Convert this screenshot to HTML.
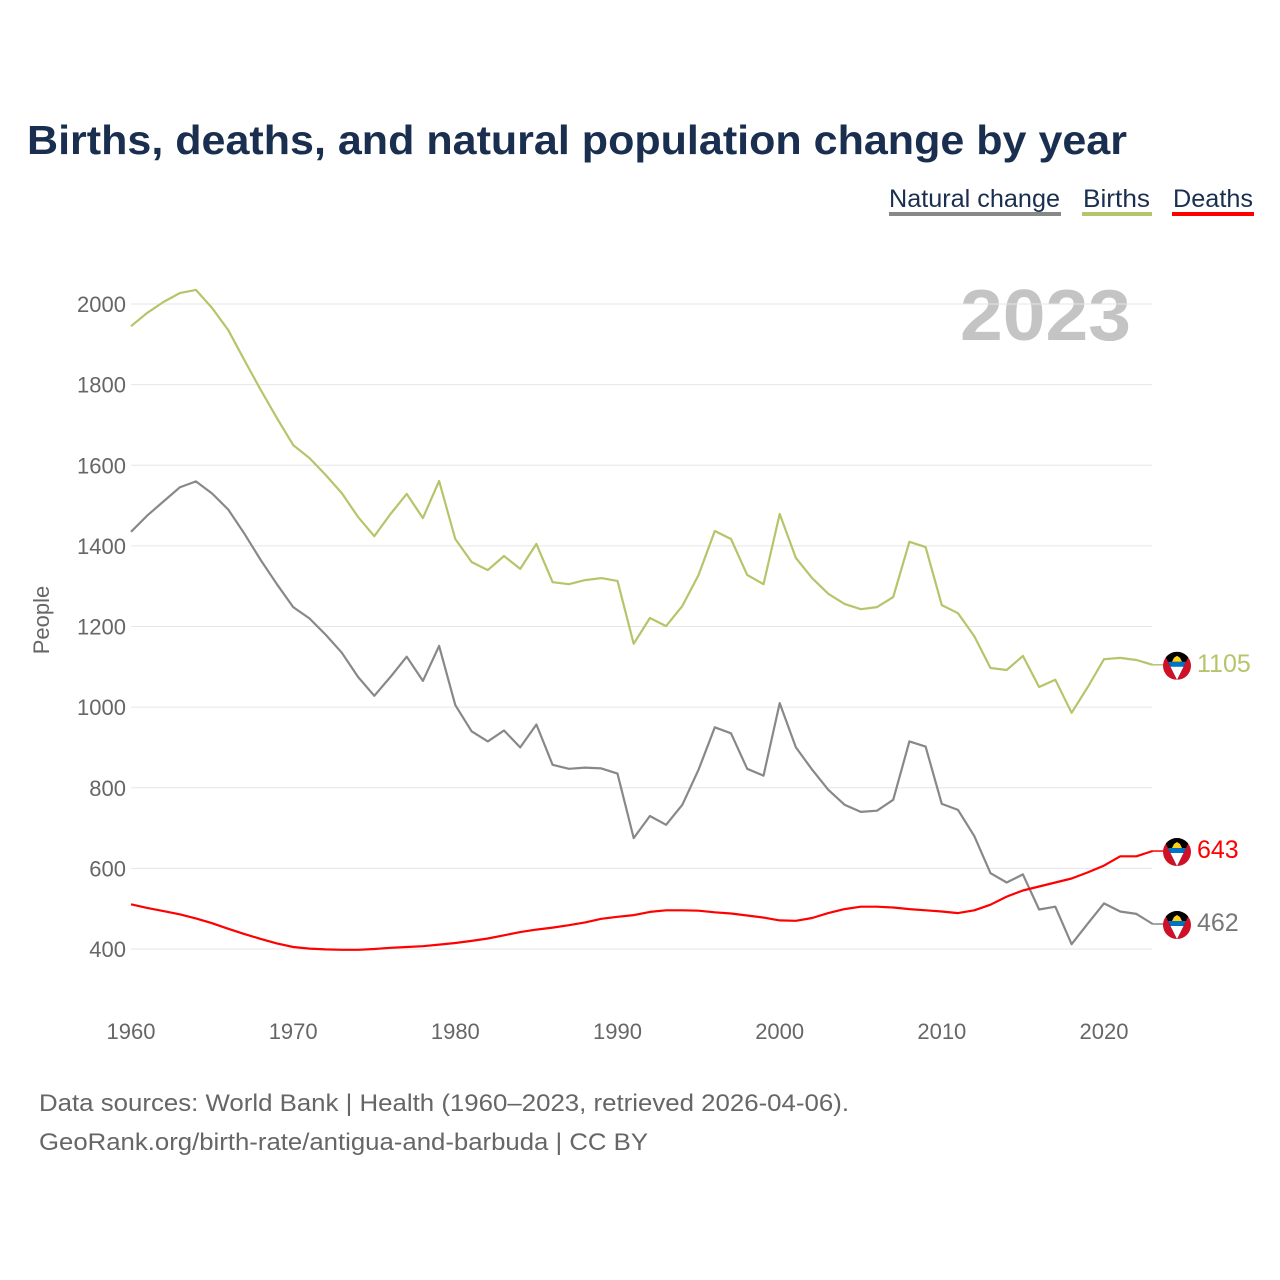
<!DOCTYPE html>
<html><head><meta charset="utf-8"><style>
html,body{margin:0;padding:0;background:#fff;}
svg{display:block;font-family:"Liberation Sans",sans-serif;}
</style></head><body>
<svg id="chart" width="1280" height="1280" viewBox="0 0 1280 1280">
<defs>
<clipPath id="fc"><circle cx="0" cy="0" r="14"/></clipPath>
<g id="flag">
<g clip-path="url(#fc)">
<rect x="-14" y="-14" width="28" height="28" fill="#ce1126"/>
<polygon points="-14,-14 14,-14 0,14" fill="#000"/>
<polygon points="-9,-4 9,-4 0,14" fill="#0072c6"/>
<polygon points="-6.5,1 6.5,1 0,14" fill="#fff"/>
<polygon points="-5,-4 5,-4 3,-8 0,-10 -3,-8" fill="#fcd116"/>
</g>
</g>
</defs>
<text x="27" y="154" font-size="41" font-weight="bold" fill="#1a2e4f" textLength="1100" lengthAdjust="spacingAndGlyphs">Births, deaths, and natural population change by year</text>
<g>
<g>
<text x="889" y="207" font-size="25" fill="#1a2e4f" textLength="171" lengthAdjust="spacingAndGlyphs">Natural change</text>
<rect x="889" y="212" width="172" height="4" fill="#888"/></g>
<g>
<text x="1083" y="207" font-size="25" fill="#1a2e4f" textLength="67" lengthAdjust="spacingAndGlyphs">Births</text>
<rect x="1082" y="212" width="70" height="4" fill="#b5c56a"/></g>
<g>
<text x="1173" y="207" font-size="25" fill="#1a2e4f" textLength="80" lengthAdjust="spacingAndGlyphs">Deaths</text>
<rect x="1172" y="212" width="82" height="4" fill="#ff0000"/></g>
</g>
<text x="1131" y="340" font-size="72" font-weight="bold" fill="#c4c4c4" text-anchor="end" textLength="171" lengthAdjust="spacingAndGlyphs">2023</text>
<text transform="translate(49,620) rotate(-90)" font-size="22" fill="#666" text-anchor="middle">People</text>
<g id="grid"></g><g id="series"></g><g id="ends"></g>
<text x="39" y="1111" font-size="24" fill="#666" textLength="810" lengthAdjust="spacingAndGlyphs">Data sources: World Bank | Health (1960–2023, retrieved 2026-04-06).</text>
<text x="39" y="1150" font-size="24" fill="#666" textLength="609" lengthAdjust="spacingAndGlyphs">GeoRank.org/birth-rate/antigua-and-barbuda | CC BY</text>
</svg>
<script>
const startYear = 1960;
const yTicks = [400,600,800,1000,1200,1400,1600,1800,2000];
const xTicks = [1960,1970,1980,1990,2000,2010,2020];
const births = [1945,1978,2005,2027,2035,1990,1935,1860,1787,1717,1650,1618,1576,1531,1472,1424,1479,1529,1469,1561,1417,1360,1340,1375,1343,1405,1310,1305,1315,1320,1313,1157,1221,1201,1251,1328,1437,1417,1328,1305,1479,1370,1320,1281,1256,1243,1248,1273,1410,1397,1253,1233,1176,1097,1092,1127,1050,1068,986,1050,1119,1122,1117,1105];
const deaths = [511,502,494,486,476,464,450,437,425,414,405,401,399,398,398,400,403,405,407,411,415,420,426,434,442,448,453,459,466,475,480,484,492,496,496,495,491,488,483,478,471,470,477,489,499,505,505,503,499,496,493,489,496,510,530,545,555,565,575,590,607,630,630,643];
const natural = [1435,1475,1510,1545,1560,1530,1490,1430,1365,1305,1248,1220,1180,1135,1075,1028,1075,1125,1065,1152,1005,940,915,942,900,957,857,847,850,848,835,675,730,708,758,845,950,935,847,830,1010,900,845,795,758,740,743,770,915,902,760,745,680,588,565,585,498,505,412,463,513,493,487,462];
const NS='http://www.w3.org/2000/svg';
const X = yr => 131 + (yr-1960)*(1104-131)/60;
const Y = v => 949 - (v-400)*(949-304)/1600;
function mk(tag, attrs, parent){const e=document.createElementNS(NS,tag);for(const k in attrs)e.setAttribute(k,attrs[k]);parent.appendChild(e);return e;}
const grid=document.getElementById('grid');
yTicks.forEach(t=>{
  const l=mk('line',{x1:131,x2:1152,y1:Y(t),y2:Y(t),stroke:'#e6e6e6','stroke-width':1},grid);
  
  
  const tx=mk('text',{x:126,y:Y(t)+8,'font-size':22,fill:'#666','text-anchor':'end'},grid);
  
  
  tx.textContent=t;
});
xTicks.forEach(t=>{
  const tx=mk('text',{x:X(t),y:1039,'font-size':22,fill:'#666','text-anchor':'middle'},grid);
  
  
  tx.textContent=t;
});
const ser=document.getElementById('series');
const ends=document.getElementById('ends');
function line(arr,color,name,labelColor){
  const d=arr.map((v,i)=>(i?'L':'M')+X(startYear+i).toFixed(1)+','+Y(v).toFixed(1)).join(' ');
  const p=mk('path',{d:d,fill:'none',stroke:color,'stroke-width':2.2,'stroke-linejoin':'round'},ser);
  
  
  const last=arr[arr.length-1], ly=Y(last);
  mk('line',{x1:X(startYear+arr.length-1),x2:1165,y1:ly,y2:ly,stroke:color,'stroke-width':1.5},ends);
  const f=mk('use',{href:'#flag',transform:'translate(1177,'+(ly+1)+')'},ends);
  
  
  const t=mk('text',{x:1197,y:ly+7,'font-size':25,fill:labelColor},ends);
  
  
  t.textContent=last;
}
line(births,'#b5c56a','births','#b5c56a');
line(natural,'#888888','natural-change','#777');
line(deaths,'#ff0000','deaths','#ff0000');
</script>
</body></html>
